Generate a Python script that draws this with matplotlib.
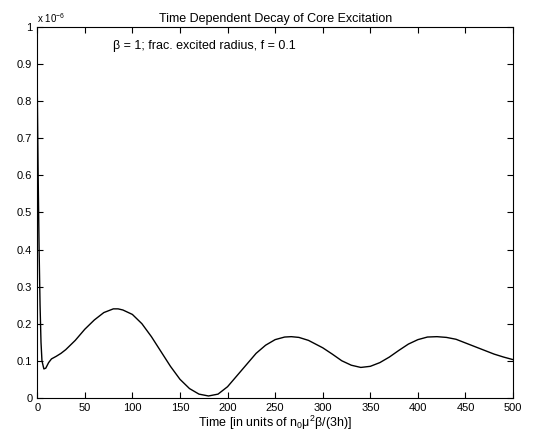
import matplotlib
matplotlib.use("Agg")
import matplotlib.pyplot as plt

plt.rcParams['font.family'] = ['Liberation Sans', 'DejaVu Sans']

# values (time, excitation in units of 1e-6)
time = [0, 1, 2, 3, 4, 5, 7, 9, 12, 15, 20, 25, 30, 40, 50, 60, 70, 80, 85, 90,
        100, 110, 120, 130, 140, 150, 160, 170, 180, 190, 200, 210, 220, 230,
        240, 250, 260, 267, 275, 285, 300, 310, 320, 330, 340, 350, 360, 370,
        380, 390, 400, 410, 420, 430, 440, 450, 460, 470, 480, 490, 500]
excitation = [0.85, 0.6, 0.4, 0.25, 0.15, 0.1, 0.078, 0.08, 0.095, 0.105, 0.112,
              0.12, 0.13, 0.155, 0.185, 0.21, 0.23, 0.24, 0.24, 0.237, 0.225,
              0.2, 0.165, 0.125, 0.085, 0.05, 0.025, 0.01, 0.005, 0.01, 0.03,
              0.06, 0.09, 0.12, 0.142, 0.157, 0.164, 0.165, 0.163, 0.155, 0.135,
              0.118, 0.1, 0.088, 0.082, 0.085, 0.095, 0.11, 0.128, 0.145, 0.157,
              0.164, 0.165, 0.163, 0.158, 0.148, 0.138, 0.128, 0.118, 0.11, 0.103]

xticks = list(range(0, 501, 50))
yticks = [i / 10 for i in range(11)]

fig = plt.figure(figsize=(5.47, 4.45), dpi=100)
ax = fig.add_axes([0.068, 0.106, 0.870, 0.833])
ax.plot(time, [v * 1e-6 for v in excitation], color="black", lw=1.0)

ax.set_xlim(0, 500)
ax.set_ylim(0, 1e-6)
ax.set_xticks(xticks)
ax.set_yticks([v * 1e-6 for v in yticks])
ax.set_yticklabels(["0" if v == 0 else ("1" if v == 1 else f"{v:.1f}") for v in yticks])
ax.tick_params(direction="in", top=True, right=True, labelsize=8, length=4)
ax.text(0.0, 1.005, r"x 10$^{\mathregular{-6}}$", transform=ax.transAxes, fontsize=7, va="bottom")

ax.set_title("Time Dependent Decay of Core Excitation", fontsize=9, pad=4)
ax.set_xlabel(r"Time [in units of n$_\mathregular{0}$μ$^\mathregular{2}$β/(3h)]", fontsize=9, labelpad=1)
ax.text(0.16, 0.94, "β = 1; frac. excited radius, f = 0.1",
        transform=ax.transAxes, fontsize=9)

fig.savefig("out.png", dpi=100)
